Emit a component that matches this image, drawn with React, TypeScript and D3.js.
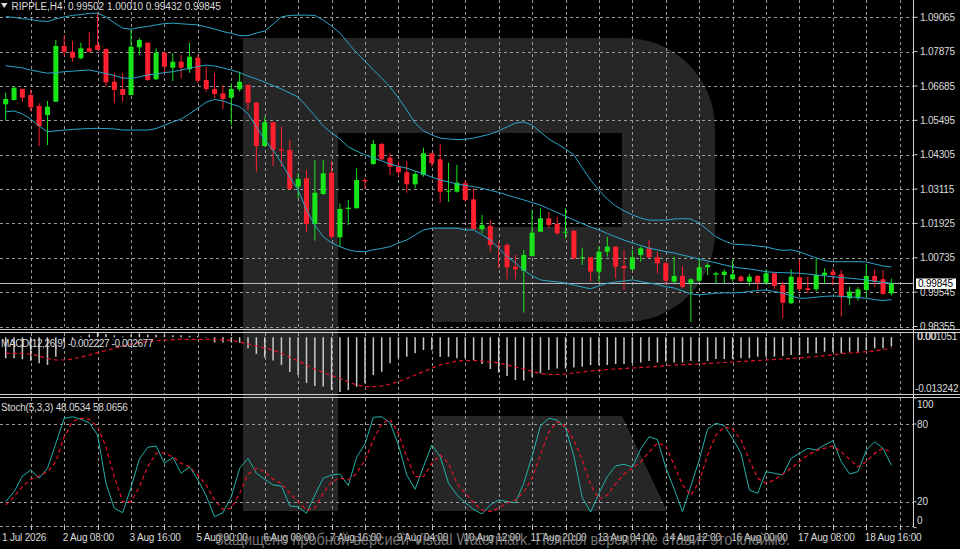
import React from "react";
import * as d3 from "d3";

// ---------- DATA ----------
const OPEN = [
  1.06052, 1.06201, 1.06582, 1.06374, 1.05993, 1.05681, 1.06142, 1.08071, 1.07873, 1.07645,
  1.07991, 1.08106, 1.07967, 1.06834, 1.06582, 1.06374, 1.08026, 1.08185, 1.06918, 1.07839,
  1.07319, 1.07527, 1.07264, 1.07666, 1.06893, 1.06582, 1.06433, 1.0628, 1.06571, 1.0672,
  1.06107, 1.04607, 1.05428, 1.04493, 1.04469, 1.03198, 1.03489, 1.01906, 1.02945, 1.03683,
  1.01445, 1.02426, 1.0245, 1.0343, 1.03984, 1.04677, 1.04202, 1.03891, 1.03697, 1.03281,
  1.03603, 1.04355, 1.04147, 1.03039, 1.03025, 1.03316, 1.02761, 1.01722, 1.01837, 1.01154,
  1.01179, 1.00427, 1.00289, 1.00798, 1.01639, 1.02103, 1.01906, 1.01605, 1.01674, 1.00718,
  1.00753, 1.00254, 1.00947, 1.0112, 1.00451, 1.00337, 1.00832, 1.01064, 1.00753, 1.00545,
  0.99908, 1.00105, 0.99852, 0.99942, 1.00406, 1.0015, 1.0014, 0.99991, 1.00081, 0.99908,
  1.00105, 0.99873, 1.00199, 0.99793, 0.9916, 1.0006, 0.99679, 0.99644, 1.0014, 1.00254,
  1.00164, 0.99333, 0.99333, 0.9962, 1.00105, 0.99991, 0.99502,
];
const HIGH = [
  1.06453, 1.06661, 1.06606, 1.06547, 1.06086, 1.06166, 1.08279, 1.08452, 1.08254, 1.08185,
  1.08566, 1.09224, 1.07984, 1.07125, 1.07125, 1.08649, 1.08338, 1.08209, 1.07991, 1.07873,
  1.07818, 1.07759, 1.08185, 1.07759, 1.07354, 1.07146, 1.0672, 1.06779, 1.07181, 1.06744,
  1.06131, 1.05622, 1.05449, 1.05276, 1.04815, 1.03662, 1.03776, 1.04123, 1.04123, 1.04064,
  1.02623, 1.02737, 1.03835, 1.03489, 1.04815, 1.04711, 1.04355, 1.04064, 1.04088, 1.03717,
  1.04549, 1.04365, 1.04677, 1.04029, 1.03949, 1.0343, 1.03142, 1.02218, 1.02044, 1.01293,
  1.01238, 1.00832, 1.01005, 1.02391, 1.0245, 1.02332, 1.02159, 1.0245, 1.01681, 1.01085,
  1.00763, 1.0112, 1.01466, 1.01127, 1.01005, 1.01005, 1.0112, 1.01352, 1.00947, 1.006,
  1.00773, 1.00427, 1.00025, 1.00718, 1.00545, 1.00254, 1.00337, 1.00659, 1.0014, 1.00174,
  1.0014, 1.00337, 1.00219, 0.99908, 1.00337, 1.00659, 1.00081, 1.00718, 1.00372, 1.00372,
  1.00313, 0.99734, 0.99714, 1.00521, 1.00337, 1.00313, 1.0001,
];
const LOW = [
  1.05484, 1.06183, 1.06142, 1.05795, 1.04607, 1.04642, 1.06131, 1.07725, 1.07527, 1.0761,
  1.07863, 1.07915, 1.06661, 1.06086, 1.06142, 1.06357, 1.07759, 1.06869, 1.06893, 1.07125,
  1.06859, 1.06952, 1.07146, 1.06779, 1.06488, 1.0626, 1.05879, 1.05335, 1.06488, 1.05854,
  1.03717, 1.04583, 1.03915, 1.03891, 1.03101, 1.02796, 1.01639, 1.01328, 1.0291, 1.01411,
  1.0112, 1.01871, 1.02443, 1.03108, 1.03949, 1.04123, 1.03603, 1.03544, 1.0299, 1.03142,
  1.03544, 1.03891, 1.02644, 1.02678, 1.0299, 1.02678, 1.01715, 1.01584, 1.00947, 1.00372,
  0.99991, 0.99991, 0.98834, 1.00773, 1.01629, 1.01757, 1.01525, 1.01411, 1.00659, 1.00486,
  0.99908, 0.99908, 1.00773, 1.00025, 0.9962, 1.00289, 1.006, 1.00718, 1.00199, 0.99828,
  0.99852, 0.99679, 0.98512, 0.99908, 1.0014, 0.99852, 0.99852, 0.99908, 0.99908, 0.99759,
  0.9962, 0.99828, 0.99644, 0.9864, 0.99135, 0.99596, 0.99506, 0.99561, 0.99828, 0.99793,
  0.98695, 0.99101, 0.9925, 0.99333, 0.99734, 0.99447, 0.99432,
];
const CLOSE = [
  1.06235, 1.06627, 1.0628, 1.05948, 1.053, 1.05969, 1.08071, 1.07873, 1.07666, 1.07991,
  1.07873, 1.07932, 1.06814, 1.06547, 1.06374, 1.08047, 1.08279, 1.06893, 1.07839, 1.07354,
  1.07527, 1.07319, 1.077, 1.06869, 1.06582, 1.06408, 1.06235, 1.06582, 1.06834, 1.06107,
  1.04607, 1.05428, 1.04469, 1.04445, 1.03118, 1.03465, 1.01906, 1.0299, 1.03662, 1.01466,
  1.02426, 1.02471, 1.0343, 1.03385, 1.04677, 1.04147, 1.03891, 1.03697, 1.03281, 1.03638,
  1.04355, 1.04008, 1.03025, 1.03059, 1.03336, 1.02737, 1.01722, 1.01871, 1.01179, 1.0112,
  1.00406, 1.00337, 1.00832, 1.01605, 1.02103, 1.01871, 1.01584, 1.01639, 1.00718, 1.00753,
  1.00254, 1.00947, 1.0112, 1.00427, 1.00372, 1.00753, 1.01064, 1.00753, 1.00545, 0.99942,
  1.00105, 0.99734, 0.99991, 1.00406, 1.00486, 1.00199, 1.00254, 1.00164, 0.99932, 1.00081,
  0.99873, 1.00199, 0.99759, 0.9918, 1.00081, 0.99644, 0.9962, 1.0014, 1.00219, 1.0014,
  0.99367, 0.99561, 0.99644, 1.00105, 0.99908, 0.99482, 0.99845,
];

const BB_UPPER = [
  1.0909, 1.0906, 1.0902, 1.0899, 1.0894, 1.0892, 1.0901, 1.0908, 1.0913, 1.0916,
  1.092, 1.0921, 1.0908, 1.0887, 1.0869, 1.0865, 1.0871, 1.0875, 1.088, 1.0885,
  1.0886, 1.0884, 1.0882, 1.088, 1.0873, 1.0866, 1.0857, 1.0851, 1.0843, 1.0843,
  1.0852, 1.0859, 1.0883, 1.0908, 1.0913, 1.0914, 1.0914, 1.0913, 1.0897, 1.0876,
  1.0852, 1.0817, 1.0783, 1.0755, 1.0724, 1.0696, 1.0665, 1.0627, 1.0585, 1.054,
  1.0513, 1.0499, 1.0488, 1.0485, 1.0483, 1.0484, 1.0488, 1.0495, 1.0502, 1.0513,
  1.0527, 1.054, 1.0544, 1.0533, 1.0509, 1.0485, 1.0468, 1.045, 1.043, 1.0385,
  1.0343, 1.0308, 1.0277, 1.0253, 1.0236, 1.0222, 1.0211, 1.0204, 1.0204, 1.0204,
  1.0208, 1.0209, 1.0208, 1.0194, 1.017, 1.0146, 1.0132, 1.0121, 1.0119, 1.0118,
  1.0114, 1.0111, 1.0104, 1.0099, 1.0101, 1.0094, 1.0083, 1.0073, 1.0064, 1.006,
  1.006, 1.006, 1.006, 1.0059, 1.0052, 1.0045, 1.0042,
];
const BB_MIDDLE = [
  1.0739, 1.0735, 1.0731, 1.0724, 1.0718, 1.0713, 1.0715, 1.0718, 1.072, 1.0722,
  1.0724, 1.0718, 1.0712, 1.0705, 1.0696, 1.0695, 1.07, 1.0707, 1.071, 1.0715,
  1.0718, 1.0724, 1.073, 1.0736, 1.0741, 1.0738, 1.0731, 1.0724, 1.0715, 1.0703,
  1.0693, 1.0682, 1.067, 1.0658, 1.0644, 1.063, 1.0599, 1.0565, 1.053, 1.0506,
  1.0485, 1.0458, 1.0443, 1.043, 1.0419, 1.0409, 1.0398, 1.039, 1.0384, 1.0374,
  1.0364, 1.0353, 1.0343, 1.0336, 1.0329, 1.0324, 1.032, 1.0314, 1.0307, 1.03,
  1.0291, 1.0282, 1.0274, 1.0265, 1.0256, 1.0243, 1.023, 1.0218, 1.0204, 1.0192,
  1.018, 1.017, 1.0158, 1.0146, 1.0135, 1.0125, 1.0116, 1.0107, 1.0101, 1.0095,
  1.009, 1.0083, 1.0076, 1.0069, 1.0062, 1.0056, 1.0049, 1.0042, 1.0038, 1.0035,
  1.003, 1.0025, 1.0023, 1.0022, 1.0021, 1.002, 1.0017, 1.0014, 1.0011, 1.0008,
  1.0005, 1.0003, 1.0, 0.9997, 0.9992, 0.9988, 0.9985,
];
const BB_LOWER = [
  1.0579, 1.0582, 1.0572, 1.0554, 1.053, 1.051, 1.0513, 1.0516, 1.0518, 1.052,
  1.0521, 1.0522, 1.0521, 1.052, 1.0516, 1.0516, 1.0516, 1.0516, 1.0521, 1.0533,
  1.0544, 1.0554, 1.0572, 1.0592, 1.0613, 1.0622, 1.0617, 1.0606, 1.0597, 1.0572,
  1.0527, 1.0482, 1.0447, 1.0402, 1.0353, 1.0308, 1.0239, 1.0187, 1.0146, 1.0125,
  1.0112, 1.0101, 1.0095, 1.0095, 1.0101, 1.0106, 1.0112, 1.0125, 1.0135, 1.0153,
  1.017, 1.0176, 1.0176, 1.0176, 1.0176, 1.017, 1.017, 1.0153, 1.0135, 1.0107,
  1.0077, 1.0056, 1.0031, 1.0011, 0.9997, 0.9993, 0.999, 0.9986, 0.9979, 0.9972,
  0.9966, 0.9976, 0.9985, 0.999, 0.9993, 0.9997, 0.9991, 0.9986, 0.9981, 0.9973,
  0.9969, 0.9959, 0.9948, 0.9945, 0.9948, 0.9951, 0.9952, 0.9952, 0.9953, 0.9957,
  0.996, 0.9962, 0.9957, 0.9951, 0.9941, 0.9933, 0.9934, 0.9937, 0.994, 0.9941,
  0.994, 0.9938, 0.9936, 0.9933, 0.9929, 0.9925, 0.9929,
];

const MACD_MAIN = [
  -0.00508, -0.00508, -0.00532, -0.00566, -0.00629, -0.0067, -0.00469, -0.0012, -0.0004, 0.0002,
  0.0007, 0.00105, 0.0008, 0.0005, 0.0002, 0.0006, 0.0009, 0.0007, 0.0006, 0.0006,
  0.0005, 0.0005, 0.0004, 0.0003, -0.0001, -0.00125, -0.00125, -0.00125, -0.00132, -0.00266,
  -0.00404, -0.00488, -0.00561, -0.0067, -0.0084, -0.00912, -0.01106, -0.01179, -0.01191, -0.01276,
  -0.013242, -0.01276, -0.01196, -0.01113, -0.00912, -0.00832, -0.00629, -0.00508, -0.00469, -0.00387,
  -0.00307, -0.00307, -0.00469, -0.00469, -0.00508, -0.00508, -0.00549, -0.00646, -0.00767, -0.00852,
  -0.00937, -0.01033, -0.01046, -0.00961, -0.00871, -0.00791, -0.00755, -0.00755, -0.00731, -0.00711,
  -0.0067, -0.0067, -0.0067, -0.00646, -0.00646, -0.00622, -0.0061, -0.00573, -0.0061, -0.0059,
  -0.0061, -0.0061, -0.00573, -0.0059, -0.00573, -0.00525, -0.00525, -0.00525, -0.00508, -0.00508,
  -0.00469, -0.00469, -0.00469, -0.00452, -0.00428, -0.00428, -0.00387, -0.00387, -0.00348, -0.00348,
  -0.00387, -0.00348, -0.00348, -0.00307, -0.00266, -0.00266, -0.002227,
];
const MACD_SIGNAL = [
  -0.00387, -0.00387, -0.00391, -0.00404, -0.00452, -0.00513, -0.00549, -0.00549, -0.00525, -0.00476,
  -0.00428, -0.00372, -0.00319, -0.00266, -0.0021, -0.00161, -0.00125, -0.00101, -0.00084, -0.00069,
  -0.00057, -0.00047, -0.00047, -0.00047, -0.00047, -0.00047, -0.0006, -0.00077, -0.00113, -0.00161,
  -0.0021, -0.00258, -0.00307, -0.00391, -0.00476, -0.00573, -0.0067, -0.00767, -0.00852, -0.00924,
  -0.00992, -0.01082, -0.01155, -0.01191, -0.01196, -0.01179, -0.0113, -0.01075, -0.00997, -0.00912,
  -0.00832, -0.00743, -0.0067, -0.00622, -0.00573, -0.00561, -0.00561, -0.00573, -0.00597, -0.00622,
  -0.0067, -0.00719, -0.00767, -0.00828, -0.00876, -0.009, -0.009, -0.00888, -0.00864, -0.0084,
  -0.00815, -0.00798, -0.00779, -0.00767, -0.00755, -0.00743, -0.00731, -0.00719, -0.00702, -0.00687,
  -0.0067, -0.00663, -0.00653, -0.00646, -0.00634, -0.00622, -0.0061, -0.00597, -0.00585, -0.00573,
  -0.00561, -0.00549, -0.00537, -0.00525, -0.00513, -0.005, -0.00484, -0.00464, -0.00445, -0.00428,
  -0.00395, -0.0038, -0.00365, -0.00348, -0.0033, -0.003, -0.002677,
];

const STOCH_MAIN = [
  20.0, 27.7, 39.8, 44.5, 38.1, 45.8, 65.0, 84.4, 85.6, 83.6,
  81.0, 71.5, 34.2, 14.9, 11.5, 31.0, 53.0, 62.0, 63.0, 49.7,
  54.3, 41.9, 47.0, 36.8, 24.5, 8.4, 11.5, 23.9, 45.8, 53.5,
  41.9, 37.3, 32.9, 32.1, 16.7, 16.1, 11.0, 25.2, 38.1, 40.6,
  41.4, 32.4, 54.3, 64.6, 85.2, 85.6, 81.0, 63.8, 40.6, 29.6,
  47.0, 63.8, 54.7, 34.2, 25.2, 19.2, 14.1, 10.5, 17.5, 21.3,
  20.2, 19.2, 34.2, 55.3, 78.5, 84.4, 83.1, 76.9, 55.3, 23.2,
  12.0, 26.5, 39.3, 47.6, 48.9, 46.6, 60.7, 70.2, 68.0, 46.4,
  29.8, 12.3, 32.1, 52.2, 76.1, 80.5, 78.8, 68.8, 57.4, 29.0,
  26.5, 43.2, 41.9, 40.6, 53.5, 57.4, 61.2, 59.9, 63.8, 67.1,
  50.9, 41.4, 43.2, 59.9, 66.3, 61.2, 48.0534,
];
const STOCH_SIGNAL = [
  17.5, 23.9, 31.6, 37.3, 39.8, 43.2, 50.9, 70.2, 81.8, 84.4,
  83.6, 77.9, 62.5, 39.3, 20.0, 20.0, 31.6, 47.0, 57.4, 57.8,
  54.7, 49.7, 47.0, 40.6, 32.9, 21.3, 14.1, 14.9, 26.5, 41.4,
  45.8, 43.2, 37.3, 34.2, 26.5, 20.0, 13.6, 14.9, 26.5, 35.4,
  38.1, 36.8, 41.9, 52.2, 67.6, 80.5, 83.6, 72.8, 54.7, 39.3,
  39.3, 49.7, 56.1, 49.7, 34.2, 26.5, 19.2, 13.6, 12.3, 15.1,
  19.0, 21.3, 27.5, 38.3, 56.1, 73.8, 81.8, 77.9, 67.6, 52.2,
  32.9, 22.1, 25.2, 33.7, 41.4, 46.0, 50.7, 58.4, 65.3, 63.0,
  48.3, 32.9, 25.2, 35.2, 56.1, 71.5, 77.7, 76.1, 67.6, 52.2,
  38.1, 34.2, 36.8, 41.4, 45.8, 50.9, 56.1, 59.4, 61.2, 63.0,
  58.6, 52.7, 47.0, 50.9, 57.4, 61.2, 58.0656,
];

const PRICE_TICKS = [1.09065, 1.07875, 1.06685, 1.05495, 1.04305, 1.03115, 1.01925, 1.00735, 0.99545, 0.98355];
const PRICE_MIN = 0.98355;
const PRICE_MAX = 1.09065;
const LAST_PRICE = 0.99845;
const MACD_MIN = -0.013242;
const MACD_MAX = 0.001051;
const STOCH_LEVELS = [20, 80];
const STOCH_AXIS = [100, 80, 20, 0];
const TIME_LABELS = [
  { i: 7, t: "2 Aug 08:00" },
  { i: 15, t: "3 Aug 16:00" },
  { i: 23, t: "5 Aug 00:00" },
  { i: 31, t: "6 Aug 08:00" },
  { i: 39, t: "7 Aug 16:00" },
  { i: 47, t: "9 Aug 04:00" },
  { i: 55, t: "10 Aug 12:00" },
  { i: 63, t: "11 Aug 20:00" },
  { i: 71, t: "13 Aug 04:00" },
  { i: 79, t: "14 Aug 12:00" },
  { i: 87, t: "16 Aug 00:00" },
  { i: 95, t: "17 Aug 08:00" },
  { i: 103, t: "18 Aug 16:00" },
];
const FIRST_DATE = "1 Jul 2026";
const HEADER_SYMBOL = "RIPPLE,H4";
const HEADER_VALUES = ["0.99502", "1.00010", "0.99432", "0.99845"];
const MACD_TITLE = "MACD(12,26,9) -0.002227 -0.002677";
const STOCH_TITLE = "Stoch(5,3,3) 48.0534 58.0656";
const WATERMARK = "Защищено пробной версией Visual Watermark. Полная версия не ставит это клеймо.";

// ---------- STYLE ----------
const FONT = "'Liberation Sans', Arial, sans-serif";
const TXT = "#dcdcdc";
const GRID = "#9a9a9a";
const BULL = "#19e619";
const BEAR = "#ff1f2f";
const BAND = "#2aa6c8";

export default function App() {
  const n = OPEN.length;
  const idx = d3.range(n);
  const axisX = 913.5;
  const x = d3.scaleLinear().domain([0, n - 1]).range([5.7, 891.4]);
  const yP = d3.scaleLinear().domain([PRICE_MIN, PRICE_MAX]).range([326.5, 17.3]);
  const yM = d3.scaleLinear().domain([MACD_MIN, MACD_MAX]).range([392, 333]);
  const yS = d3.scaleLinear().domain([0, 100]).range([527.6, 398.1]);

  const band = (arr: number[]) =>
    d3.line<number>().x((i) => x(i)).y((i) => yP(arr[i]))(idx) || "";
  const macdSig = d3.line<number>().x((i) => x(i)).y((i) => yM(MACD_SIGNAL[i]))(idx) || "";
  const stMain = d3.line<number>().x((i) => x(i)).y((i) => yS(STOCH_MAIN[i]))(idx) || "";
  const stSig = d3.line<number>().x((i) => x(i)).y((i) => yS(STOCH_SIGNAL[i]))(idx) || "";

  const gridIdx = d3.range(3, n + 1, 4);
  const panes = [
    { top: 0, bottom: 329 },
    { top: 333, bottom: 394 },
    { top: 398, bottom: 526 },
  ];

  const logoR =
    "M243,38 H625 A90,90 0 0 1 715,128 V232 A90,90 0 0 1 625,322 H433 V227 H622 V133 H338 V511 H243 Z";
  const logoLeg = "M433,416 H622 L667,511 H433 Z";

  return (
    <div style={{ position: "absolute", left: 0, top: 0, width: 960, height: 549, background: "#000" }}>
      <svg width={960} height={549} style={{ display: "block", fontFamily: FONT }}>
        <rect x={0} y={0} width={960} height={549} fill="#000" />
        <defs>
          <clipPath id="cMain"><rect x={0} y={0} width={axisX} height={329} /></clipPath>
          <clipPath id="cMacd"><rect x={0} y={333} width={axisX} height={61} /></clipPath>
          <clipPath id="cSto"><rect x={0} y={398} width={axisX} height={128} /></clipPath>
        </defs>

        {/* logo watermark */}
        <path d={logoR} fill="#262626" />
        <path d={logoLeg} fill="#262626" />

        {/* vertical grid */}
        {panes.map((p, k) =>
          gridIdx.map((i) => (
            <line key={`vg${k}-${i}`} x1={Math.round(x(i)) + 0.5} x2={Math.round(x(i)) + 0.5}
              y1={p.top} y2={p.bottom} stroke={GRID} strokeWidth={1} strokeDasharray="3,3" />
          ))
        )}
        {/* horizontal price grid */}
        {PRICE_TICKS.map((p) => (
          <line key={`hg${p}`} x1={0} x2={axisX} y1={Math.round(yP(p)) + 0.5} y2={Math.round(yP(p)) + 0.5}
            stroke={GRID} strokeWidth={1} strokeDasharray="3,3" />
        ))}
        {/* stochastic levels */}
        {STOCH_LEVELS.map((v) => (
          <line key={`sl${v}`} x1={0} x2={axisX} y1={Math.round(yS(v)) + 0.5} y2={Math.round(yS(v)) + 0.5}
            stroke={GRID} strokeWidth={1} strokeDasharray="3,3" />
        ))}
        {/* bottom dashed border */}
        <line x1={0} x2={axisX} y1={526.5} y2={526.5} stroke={GRID} strokeWidth={1} strokeDasharray="3,3" />

        {/* main pane */}
        <g clipPath="url(#cMain)">
          <line x1={0} x2={axisX} y1={yP(LAST_PRICE)} y2={yP(LAST_PRICE)} stroke="#b4c0c8" strokeWidth={1} />
          {idx.map((i) => {
            const o = OPEN[i], c = CLOSE[i];
            const col = c >= o ? BULL : BEAR;
            const yt = yP(Math.max(o, c));
            const yb = yP(Math.min(o, c));
            const cx = x(i);
            return (
              <g key={`c${i}`}>
                <line x1={cx} x2={cx} y1={yP(HIGH[i])} y2={yP(LOW[i])} stroke={col} strokeWidth={1} />
                <rect x={cx - 2.5} y={yt} width={5} height={Math.max(1, yb - yt)} fill={col} />
              </g>
            );
          })}
          <path d={band(BB_UPPER)} fill="none" stroke={BAND} strokeWidth={1} />
          <path d={band(BB_MIDDLE)} fill="none" stroke={BAND} strokeWidth={1} />
          <path d={band(BB_LOWER)} fill="none" stroke={BAND} strokeWidth={1} />
        </g>

        {/* MACD pane */}
        <g clipPath="url(#cMacd)">
          {idx.map((i) => (
            <line key={`m${i}`} x1={x(i)} x2={x(i)} y1={yM(0)} y2={yM(MACD_MAIN[i])}
              stroke="#c8c8c8" strokeWidth={1.5} />
          ))}
          <path d={macdSig} fill="none" stroke="#e8102a" strokeWidth={1.2} strokeDasharray="4,3" />
        </g>

        {/* Stochastic pane */}
        <g clipPath="url(#cSto)">
          <path d={stMain} fill="none" stroke="#20b2aa" strokeWidth={1} />
          <path d={stSig} fill="none" stroke="#e8102a" strokeWidth={1.2} strokeDasharray="4,3" />
        </g>

        {/* pane separators */}
        {[329.5, 332.5, 394.5, 397.5].map((yy) => (
          <line key={`sep${yy}`} x1={0} x2={960} y1={yy} y2={yy} stroke="#d0d0d0" strokeWidth={1} />
        ))}
        {/* right axis */}
        <line x1={axisX} x2={axisX} y1={0} y2={527} stroke="#d0d0d0" strokeWidth={1} />

        {/* price labels */}
        {PRICE_TICKS.map((p) => (
          <g key={`pl${p}`}>
            <line x1={axisX} x2={axisX + 4} y1={yP(p)} y2={yP(p)} stroke="#d0d0d0" />
            <text x={920} y={yP(p) + 3.6} fontSize={10} fill={TXT} letterSpacing={-0.2}>{p.toFixed(5)}</text>
          </g>
        ))}
        {/* last price box */}
        <rect x={916} y={yP(LAST_PRICE) - 5} width={40} height={10.5} fill="#ffffff" />
        <text x={918} y={yP(LAST_PRICE) + 3.6} fontSize={10} fill="#000" letterSpacing={-0.2}>{LAST_PRICE.toFixed(5)}</text>

        {/* MACD axis labels */}
        <text x={917} y={yM(MACD_MAX) + 7} fontSize={10} fill={TXT} letterSpacing={-0.2}>{MACD_MAX.toFixed(6)}</text>
        <text x={917.6} y={yM(MACD_MAX) + 7} fontSize={10} fill={TXT} letterSpacing={-0.2}>0.00</text>
        <text x={915} y={yM(MACD_MIN) - 0.5} fontSize={10} fill={TXT} letterSpacing={-0.2}>{MACD_MIN.toFixed(6)}</text>

        {/* Stoch axis labels */}
        {STOCH_AXIS.map((v) => {
          const yy = v === 100 ? yS(v) + 9.5 : v === 0 ? yS(v) - 4 : yS(v) + 3.6;
          return (
            <g key={`sa${v}`}>
              <line x1={axisX} x2={axisX + 3} y1={yS(v)} y2={yS(v)} stroke="#d0d0d0" />
              <text x={917} y={yy} fontSize={10} fill={TXT}>{v}</text>
            </g>
          );
        })}

        {/* time axis */}
        {gridIdx.map((i) => (
          <line key={`tt${i}`} x1={Math.round(x(i)) + 0.5} x2={Math.round(x(i)) + 0.5} y1={526} y2={530}
            stroke="#c8c8c8" strokeWidth={1} />
        ))}
        <text x={2} y={540.5} fontSize={10} fill={TXT} letterSpacing={-0.2}>{FIRST_DATE}</text>
        {TIME_LABELS.map((l) => (
          <text key={`tl${l.i}`} x={x(l.i) - 1.5} y={540.5} fontSize={10} fill={TXT} letterSpacing={-0.2}>{l.t}</text>
        ))}

        {/* header / titles */}
        <path d="M1,3 L7.5,3 L4.25,8 Z" fill={TXT} />
        <text x={11.5} y={10} fontSize={10} fill={TXT}>{HEADER_SYMBOL}</text>
        <text x={68} y={10} fontSize={10} fill={TXT}>{HEADER_VALUES.join(" ")}</text>
        <text x={1} y={346.5} fontSize={10} fill={TXT} letterSpacing={-0.4}>{MACD_TITLE}</text>
        <text x={1} y={410.5} fontSize={10} fill={TXT} letterSpacing={-0.2}>{STOCH_TITLE}</text>

        {/* trial watermark */}
        <text x={215} y={545} fontSize={16} fill="#8a8a8a" fillOpacity={0.85} textLength={575} lengthAdjust="spacingAndGlyphs">{WATERMARK}</text>
      </svg>
    </div>
  );
}
